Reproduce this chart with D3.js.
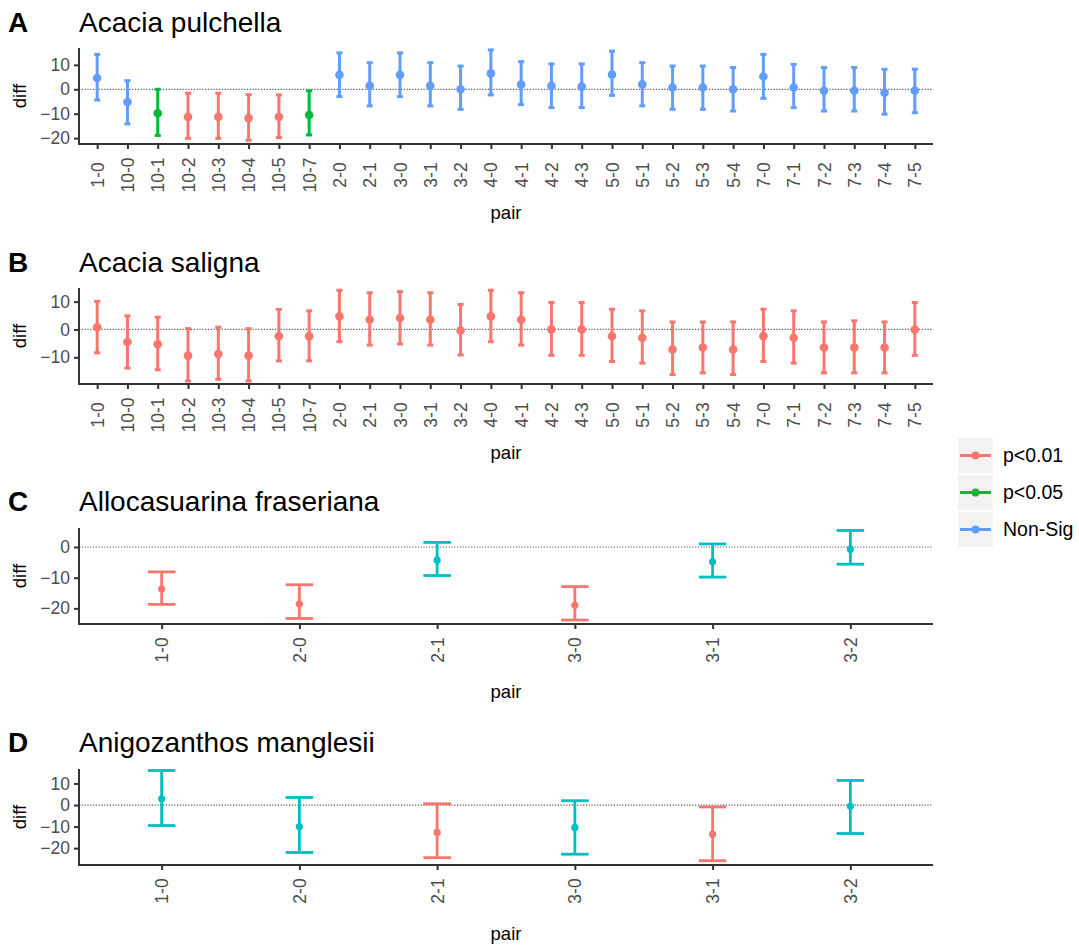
<!DOCTYPE html>
<html><head><meta charset="utf-8">
<script src="https://cdn.jsdelivr.net/npm/d3@7"></script>
<style>body{margin:0;background:#fff;} svg{display:block;font-family:"Liberation Sans",Arial,sans-serif;}</style>
</head><body>
<svg id="chart" width="1079" height="949"></svg>
<script>
// ---------- data ----------
const pairsAB = ["1-0","10-0","10-1","10-2","10-3","10-4","10-5","10-7","2-0","2-1","3-0","3-1","3-2","4-0","4-1","4-2","4-3","5-0","5-1","5-2","5-3","5-4","7-0","7-1","7-2","7-3","7-4","7-5"];
const A_diff = [4.6,-5.2,-9.8,-11.3,-11.3,-11.8,-11.3,-10.5,5.9,1.4,5.9,1.4,0.0,6.5,1.9,1.4,1.1,6.0,2.0,0.7,0.7,0.0,5.2,0.7,-0.6,-0.6,-1.4,-0.6];
const A_upr  = [14.3,3.5,0.0,-1.6,-1.6,-2.2,-2.3,-0.6,14.9,10.9,14.9,10.9,9.5,16.1,11.3,10.4,10.4,15.6,10.9,9.5,9.5,8.9,14.3,10.2,8.9,8.9,8.2,8.2];
const A_lwr  = [-4.4,-14.2,-18.9,-20.1,-20.1,-20.9,-19.8,-18.7,-3.0,-6.8,-3.0,-6.8,-8.2,-2.3,-6.3,-7.5,-7.5,-2.5,-6.8,-8.2,-8.2,-8.9,-3.7,-7.5,-8.9,-8.9,-10.2,-9.6];
const A_sig  = ["Non-Sig","Non-Sig","p<0.05","p<0.01","p<0.01","p<0.01","p<0.01","p<0.05","Non-Sig","Non-Sig","Non-Sig","Non-Sig","Non-Sig","Non-Sig","Non-Sig","Non-Sig","Non-Sig","Non-Sig","Non-Sig","Non-Sig","Non-Sig","Non-Sig","Non-Sig","Non-Sig","Non-Sig","Non-Sig","Non-Sig","Non-Sig"];

const B_diff = [0.8,-4.5,-5.3,-9.4,-8.8,-9.4,-2.4,-2.4,4.7,3.5,4.1,3.5,-0.4,4.7,3.5,0.0,0.0,-2.4,-3.0,-7.2,-6.5,-7.2,-2.4,-3.0,-6.5,-6.5,-6.5,0.0];
const B_upr  = [10.1,4.9,4.4,0.3,0.8,0.3,7.2,6.7,14.1,13.2,13.6,13.2,9.0,14.1,13.2,9.7,9.7,7.3,6.7,2.7,2.7,2.7,7.3,6.7,2.7,3.1,2.7,9.7];
const B_lwr  = [-8.4,-13.9,-14.5,-18.5,-17.9,-18.5,-11.3,-11.3,-4.4,-5.6,-5.2,-5.6,-9.2,-4.4,-5.6,-9.3,-9.3,-11.5,-12.1,-16.2,-15.6,-16.2,-11.5,-12.1,-15.6,-15.6,-15.6,-9.3];
const B_sig  = pairsAB.map(() => "p<0.01");

const pairsCD = ["1-0","2-0","2-1","3-0","3-1","3-2"];
const C_diff = [-13.7,-18.5,-4.3,-19.0,-4.8,-0.7];
const C_upr  = [-8.1,-12.3,1.5,-12.9,1.0,5.4];
const C_lwr  = [-18.7,-23.3,-9.3,-23.8,-9.8,-5.6];
const C_sig  = ["p<0.01","p<0.01","Non-Sig","p<0.01","Non-Sig","Non-Sig"];

const D_diff = [2.9,-10.0,-12.7,-10.4,-13.5,-0.6];
const D_upr  = [16.0,3.5,0.6,2.0,-0.9,11.4];
const D_lwr  = [-9.5,-22.0,-24.4,-22.8,-25.8,-13.2];
const D_sig  = ["Non-Sig","Non-Sig","p<0.01","Non-Sig","p<0.01","Non-Sig"];

const ticksA = [-20,-10,0,10];
const ticksB = [-10,0,10];
const ticksC = [-20,-10,0];
const ticksD = [-20,-10,0,10];

const legendLabels = ["p<0.01","p<0.05","Non-Sig"];
const legendColors = ["#F8766D","#00BA38","#619CFF"];
const colors3 = d3.scaleOrdinal().domain(legendLabels).range(legendColors);
const colors2 = d3.scaleOrdinal().domain(["p<0.01","Non-Sig"]).range(["#F8766D","#00BFC4"]);

// ---------- layout ----------
const svg = d3.select("#chart");
const X0 = 79, X1 = 933;

const panels = [
  {tag:"A", title:"Acacia pulchella", pairs:pairsAB, diff:A_diff, lwr:A_lwr, upr:A_upr, sig:A_sig, ticks:ticksA,
   top:48, bottom:144, domain:[-22.4,16.9], titleY:32, labY:175, pairY:219, r:4.3, sw:3, color:colors3},
  {tag:"B", title:"Acacia saligna", pairs:pairsAB, diff:B_diff, lwr:B_lwr, upr:B_upr, sig:B_sig, ticks:ticksB,
   top:288, bottom:384, domain:[-19.6,14.9], titleY:272, labY:415, pairY:459, r:4.3, sw:3, color:colors3},
  {tag:"C", title:"Allocasuarina fraseriana", pairs:pairsCD, diff:C_diff, lwr:C_lwr, upr:C_upr, sig:C_sig, ticks:ticksC,
   top:528, bottom:624, domain:[-25.1,6.2], titleY:511, labY:650, pairY:698, r:3.6, sw:2.8, color:colors2},
  {tag:"D", title:"Anigozanthos manglesii", pairs:pairsCD, diff:D_diff, lwr:D_lwr, upr:D_upr, sig:D_sig, ticks:ticksD,
   top:769, bottom:865, domain:[-27.8,16.7], titleY:752, labY:891, pairY:940, r:3.6, sw:2.8, color:colors2}
];

panels.forEach(p => {
  const g = svg.append("g");
  const x = d3.scalePoint().domain(p.pairs).range([X0, X1]).padding(0.6);
  const y = d3.scaleLinear().domain(p.domain).range([p.bottom, p.top]);
  const step = x.step();
  const rows = p.pairs.map((k,i) => ({k, d:p.diff[i], lo:p.lwr[i], hi:p.upr[i], s:p.sig[i]}));

  // tag and title
  g.append("text").attr("x", 8).attr("y", p.titleY).attr("font-size", 28).attr("font-weight", "bold").attr("fill","#000").text(p.tag);
  g.append("text").attr("x", 79).attr("y", p.titleY).attr("font-size", 28).attr("fill","#000").text(p.title);

  // zero line
  g.append("line").attr("x1", X0).attr("x2", X1).attr("y1", y(0)).attr("y2", y(0))
    .attr("stroke", "#555").attr("stroke-width", 1.2).attr("stroke-dasharray", "1.2,1.6");

  // error bars
  const eb = g.append("g").selectAll("g").data(rows).join("g").attr("stroke", d => p.color(d.s)).attr("stroke-width", p.sw);
  eb.append("line").attr("x1", d => x(d.k)).attr("x2", d => x(d.k)).attr("y1", d => y(d.lo)).attr("y2", d => y(d.hi));
  eb.append("line").attr("x1", d => x(d.k) - 0.1*step).attr("x2", d => x(d.k) + 0.1*step).attr("y1", d => y(d.lo)).attr("y2", d => y(d.lo));
  eb.append("line").attr("x1", d => x(d.k) - 0.1*step).attr("x2", d => x(d.k) + 0.1*step).attr("y1", d => y(d.hi)).attr("y2", d => y(d.hi));
  g.append("g").selectAll("circle").data(rows).join("circle")
    .attr("cx", d => x(d.k)).attr("cy", d => y(d.d)).attr("r", p.r).attr("fill", d => p.color(d.s));

  // axes
  const ax = g.append("g").attr("transform", `translate(${X0},0)`)
    .call(d3.axisLeft(y).tickValues(p.ticks).tickSize(5).tickSizeOuter(0).tickPadding(4).tickFormat(d3.format("d")));
  ax.selectAll("text").attr("font-size", 17.5).attr("fill", "#4D4D4D").attr("font-family", "Liberation Sans, Arial, sans-serif");
  const bx = g.append("g").attr("transform", `translate(0,${p.bottom})`)
    .call(d3.axisBottom(x).tickSize(5).tickSizeOuter(0));
  bx.selectAll("text").attr("font-size", 17.5).attr("fill", "#4D4D4D").attr("font-family", "Liberation Sans, Arial, sans-serif")
    .attr("x", 0).attr("y", 0).attr("dy", "0.35em").attr("text-anchor", "middle")
    .attr("transform", `translate(0,${p.labY - p.bottom}) rotate(-90)`);
  [ax, bx].forEach(a => {
    a.select(".domain").attr("stroke", "#333").attr("stroke-width", 2);
    a.selectAll(".tick line").attr("stroke", "#333").attr("stroke-width", 2);
  });
  ax.select(".domain").attr("d", `M0,${p.bottom + 1}V${p.top}`);
  bx.select(".domain").attr("d", `M${X0 - 1},0H${X1}`);

  g.append("text").attr("transform", `translate(26,${(p.top + p.bottom) / 2}) rotate(-90)`)
    .attr("text-anchor", "middle").attr("font-size", 18.5).attr("fill", "#000").text("diff");
  g.append("text").attr("x", (X0 + X1) / 2).attr("y", p.pairY)
    .attr("text-anchor", "middle").attr("font-size", 18.5).attr("fill", "#000").text("pair");
});

// legend
const lg = svg.append("g");
const keyY = [438, 475, 512];
legendLabels.forEach((lab, i) => {
  const y0 = keyY[i];
  lg.append("rect").attr("x", 958).attr("y", y0).attr("width", 35).attr("height", 35).attr("fill", "#F2F2F2");
  lg.append("line").attr("x1", 960).attr("x2", 991).attr("y1", y0 + 17.5).attr("y2", y0 + 17.5)
    .attr("stroke", legendColors[i]).attr("stroke-width", 3);
  lg.append("circle").attr("cx", 975.5).attr("cy", y0 + 17.5).attr("r", 4).attr("fill", legendColors[i]);
  lg.append("text").attr("x", 1003).attr("y", y0 + 17.5).attr("dy", "0.35em").attr("font-size", 19.5).attr("fill", "#000").text(lab);
});
</script>
</body></html>
